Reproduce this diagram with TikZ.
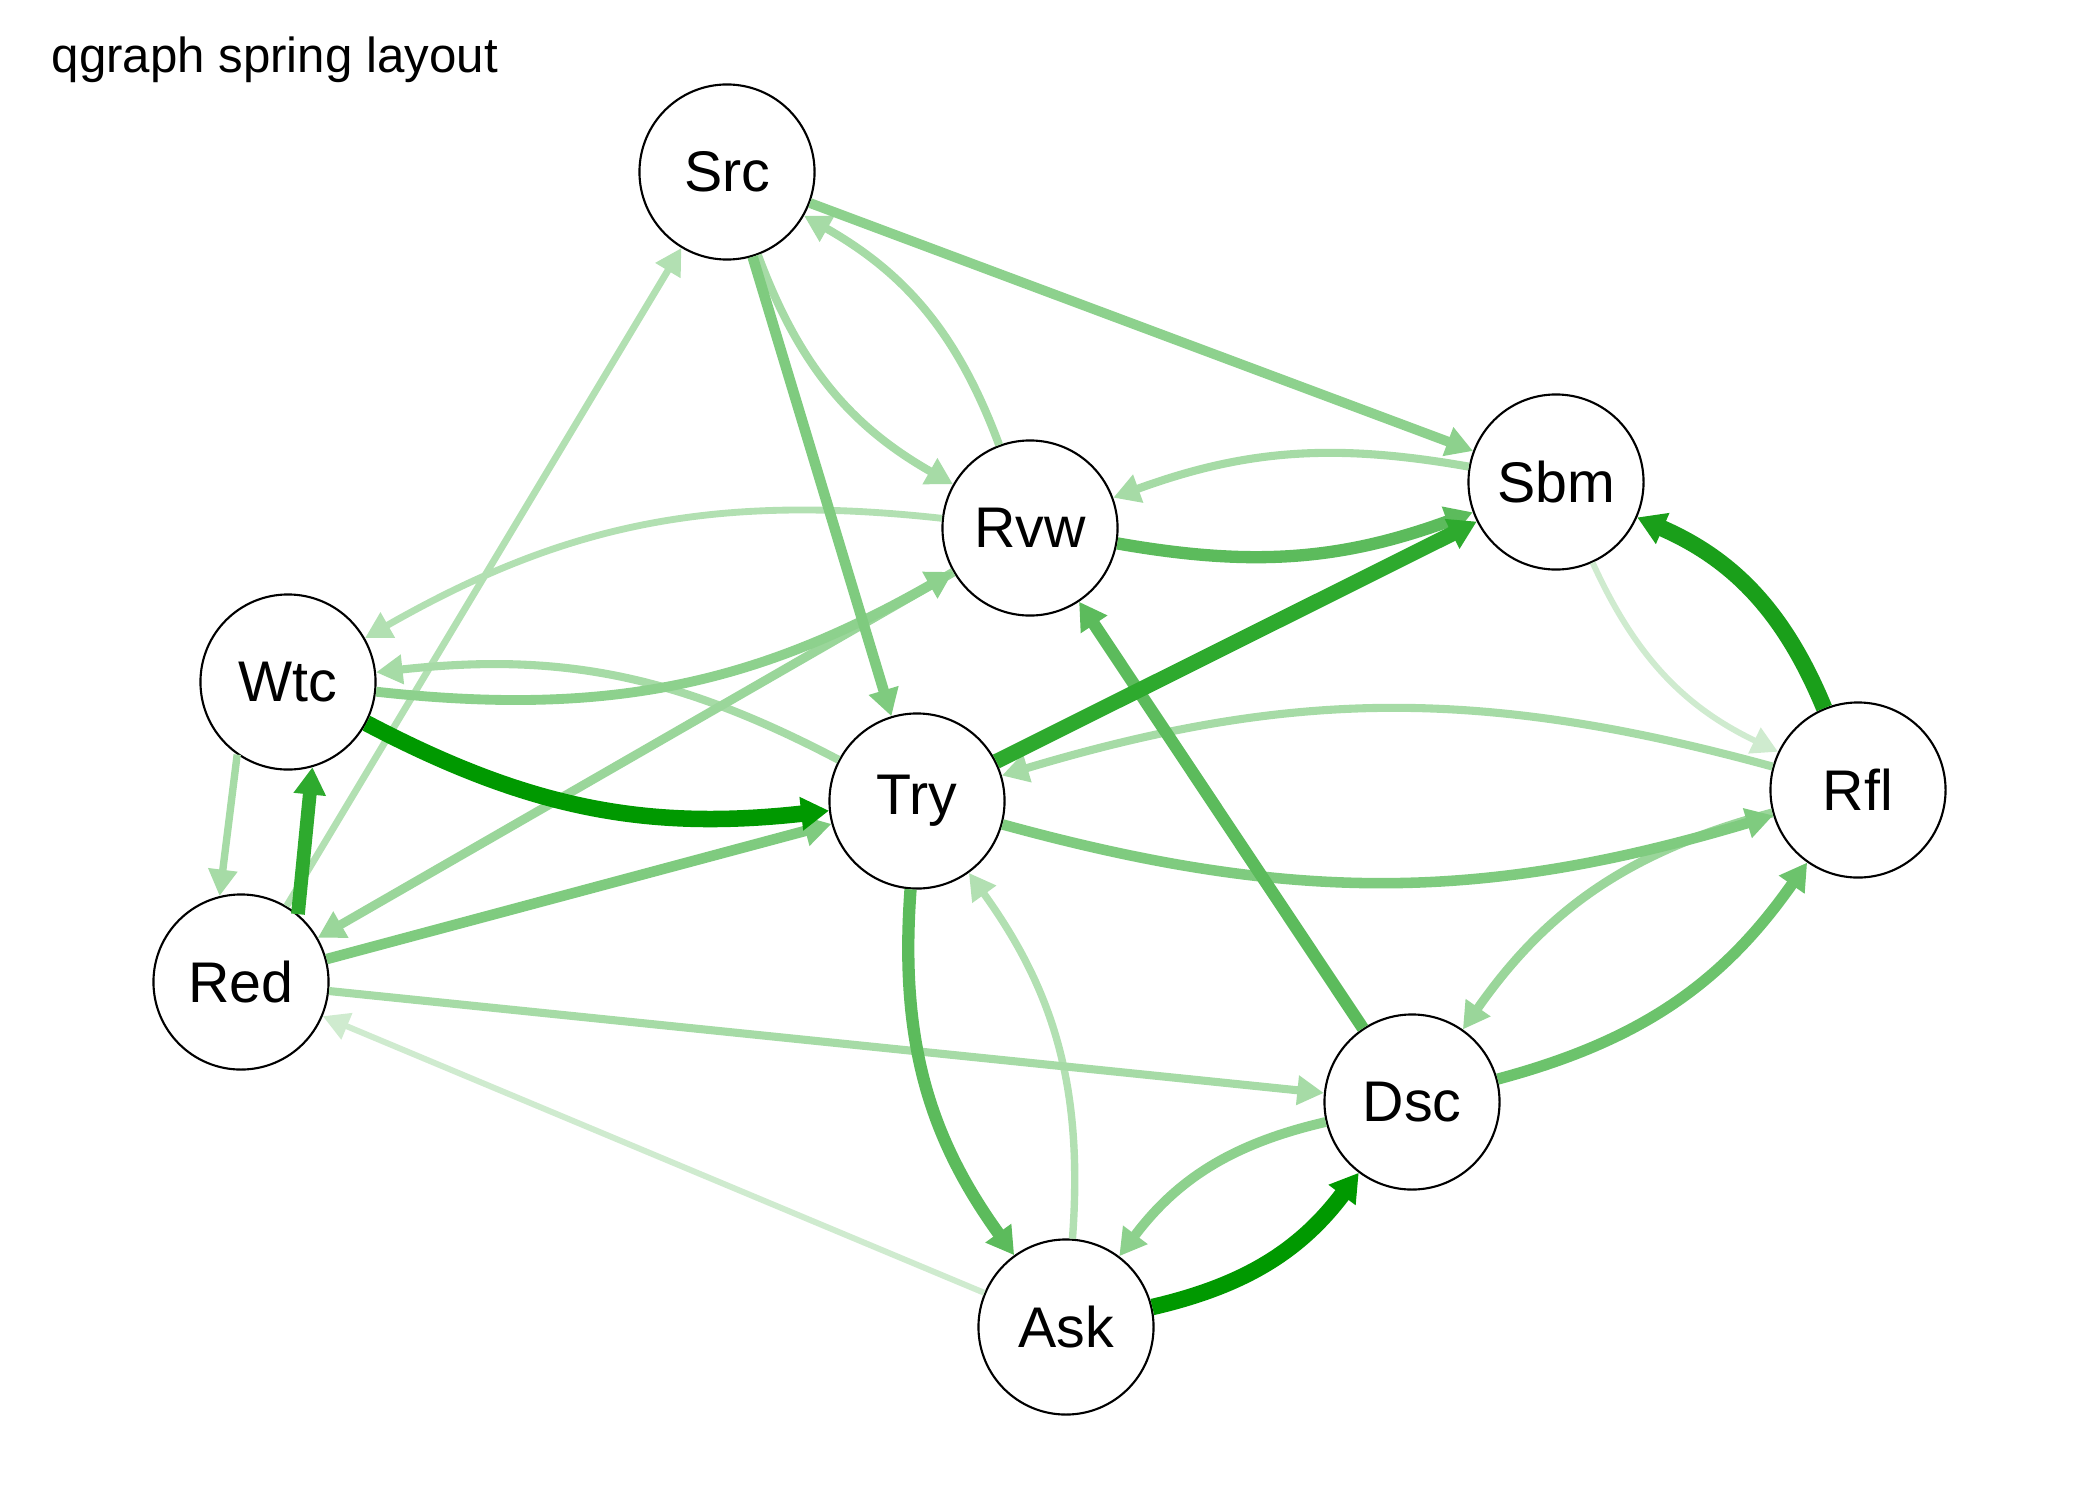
\documentclass[tikz,border=0pt]{standalone}
\usepackage{fontspec}
\setmainfont{Liberation Sans}
\usetikzlibrary{arrows.meta}
\definecolor{gA}{HTML}{009900}
\definecolor{gB}{HTML}{1A9F1A}
\definecolor{gC}{HTML}{2EAA2E}
\definecolor{gD}{HTML}{5CBB5C}
\definecolor{gE}{HTML}{6CC36C}
\definecolor{gF}{HTML}{7FCB7F}
\definecolor{gG}{HTML}{8DD18D}
\definecolor{gH}{HTML}{9AD69A}
\definecolor{gI}{HTML}{A6DBA6}
\definecolor{gJ}{HTML}{B2E0B2}
\definecolor{gK}{HTML}{CFEBCF}
\begin{document}
\begin{tikzpicture}[x=0.01cm,y=-0.01cm,
  vnode/.style={circle,draw=black,line width=0.6pt,fill=white,minimum size=1.75cm,inner sep=0pt,font=\fontsize{16.3}{18}\selectfont},
  edge/.style={-{Triangle[length=7.2pt 0.15,width=7pt 0.45]}},
  titletext/.style={anchor=base west,inner sep=0pt,font=\fontsize{14}{16}\selectfont}]
\path[use as bounding box] (0,0) rectangle (2100,1500);
\node[titletext] (title) at (51,73) {qgraph spring layout};
% nodes
\node[vnode] (Src) at (727,172) {Src};
\node[vnode] (Rvw) at (1030,528) {Rvw};
\node[vnode] (Sbm) at (1556,482) {Sbm};
\node[vnode] (Wtc) at (288,682) {Wtc};
\node[vnode] (Try) at (917,801) {Try};
\node[vnode] (Rfl) at (1858,790) {Rfl};
\node[vnode] (Red) at (241,982) {Red};
\node[vnode] (Dsc) at (1412,1102) {Dsc};
\node[vnode] (Ask) at (1066,1327) {Ask};
% edges (lightest first)
\draw[edge,draw=gK,line width=1.7pt] (Ask) -- (Red);
\draw[edge,draw=gK,line width=1.7pt] (Sbm) to[bend right=20] (Rfl);
\draw[edge,draw=gJ,line width=1.95pt] (Red) -- (Src);
\draw[edge,draw=gJ,line width=1.95pt] (Rvw) to[bend right=18] (Wtc);
\draw[edge,draw=gJ,line width=2.1pt] (Ask) to[bend right=20] (Try);
\draw[edge,draw=gI,line width=2.1pt] (Wtc.235) -- (Red.104);
\draw[edge,draw=gI,line width=2.3pt] (Rfl) to[bend right=16] (Try);
\draw[edge,draw=gI,line width=2.3pt] (Try) to[bend right=17] (Wtc);
\draw[edge,draw=gI,line width=2.3pt] (Sbm) to[bend right=15] (Rvw);
\draw[edge,draw=gI,line width=2.3pt] (Rvw) to[bend right=20] (Src);
\draw[edge,draw=gI,line width=2.3pt] (Src) to[bend right=20] (Rvw);
\draw[edge,draw=gI,line width=2.3pt] (Red) -- (Dsc);
\draw[edge,draw=gH,line width=2.55pt] (Rvw) -- (Red);
\draw[edge,draw=gH,line width=2.55pt] (Rfl) to[bend right=20] (Dsc);
\draw[edge,draw=gG,line width=2.8pt] (Dsc) to[bend right=20] (Ask);
\draw[edge,draw=gG,line width=2.8pt] (Wtc) to[bend right=18] (Rvw);
\draw[edge,draw=gG,line width=2.8pt] (Src) -- (Sbm);
\draw[edge,draw=gF,line width=3pt] (Red) -- (Try);
\draw[edge,draw=gF,line width=3pt] (Try) to[bend right=16] (Rfl);
\draw[edge,draw=gF,line width=3pt] (Src) -- (Try);
\draw[edge,draw=gE,line width=3.2pt] (Dsc) to[bend right=20] (Rfl);
\draw[edge,draw=gD,line width=3.5pt] (Try) to[bend right=20] (Ask);
\draw[edge,draw=gD,line width=3.5pt] (Rvw) to[bend right=15] (Sbm);
\draw[edge,draw=gD,line width=3.5pt] (Dsc) -- (Rvw);
\draw[edge,draw=gC,line width=3.9pt] (Red.50) -- (Wtc.286);
\draw[edge,draw=gC,line width=4.3pt] (Try) -- (Sbm);
\draw[edge,draw=gB,line width=4.7pt] (Rfl) to[bend right=22] (Sbm);
\draw[edge,draw=gA,line width=4.7pt] (Ask) to[bend right=20] (Dsc);
\draw[edge,draw=gA,line width=4.7pt] (Wtc) to[bend right=17] (Try);
\end{tikzpicture}
\end{document}
